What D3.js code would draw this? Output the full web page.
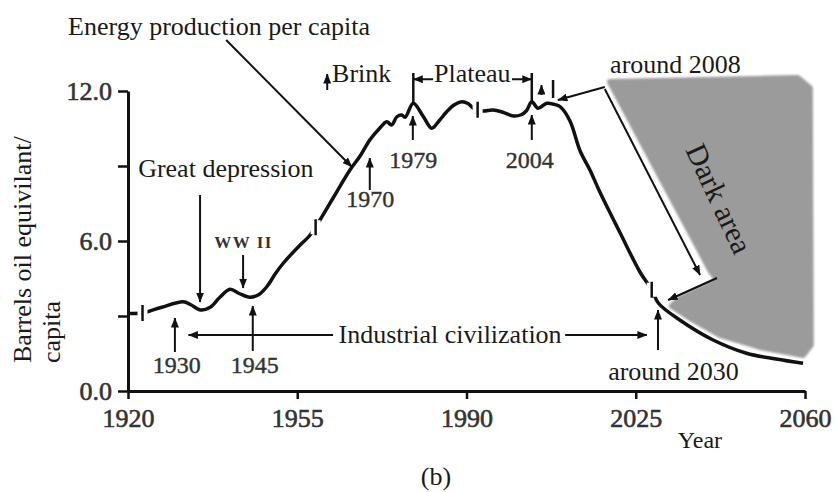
<!DOCTYPE html>
<html>
<head>
<meta charset="utf-8">
<script src="https://cdn.jsdelivr.net/npm/d3@7"></script>
<style>
  body { margin: 0; background: #fff; }
  svg { display: block; font-family: "Liberation Serif", "Times New Roman", serif; }
</style>
</head>
<body>
<svg id="chart" width="837" height="492"></svg>
<script>
// Energy production per capita (barrels of oil equivalent per person), 1920–2060
const years = [1920, 1923, 1924, 1927, 1931.4, 1933, 1935, 1937, 1939, 1941.1, 1943, 1945.2, 1947, 1948.7,
  1950.5, 1952.1, 1955.6, 1957.5, 1959.7, 1962.5, 1965.9, 1968, 1970, 1972, 1973.5, 1974.5, 1975.6, 1976.6,
  1977.3, 1979, 1981, 1982.8, 1984.3, 1985.9, 1987.5, 1989, 1990.3, 1991.4, 1992.3, 1993.5, 1995.5, 1997.5,
  1999.7, 2001.3, 2002.4, 2003.5, 2004.8, 2006.6, 2008.6, 2009.5, 2011.4, 2013.5, 2015.5, 2017.6, 2021.7,
  2025.9, 2028.3, 2029.7, 2034.1, 2041, 2047.9, 2054, 2059.6];
const values = [3.10, 3.12, 3.17, 3.35, 3.57, 3.45, 3.24, 3.35, 3.75, 4.07, 3.90, 3.75, 3.85, 4.17,
  4.70, 5.11, 5.84, 6.20, 6.84, 7.75, 8.84, 9.40, 10.04, 10.50, 10.77, 10.64, 10.97, 11.04,
  10.95, 11.51, 11.00, 10.51, 10.80, 11.17, 11.45, 11.57, 11.50, 11.31, 11.25, 11.20, 11.24, 11.15,
  11.00, 11.05, 11.21, 11.57, 11.31, 11.51, 11.44, 11.35, 10.80, 9.60, 8.85, 7.95, 6.35,
  4.75, 4.05, 3.51, 2.84, 2.04, 1.51, 1.28, 1.11];

// Axis ticks
const xTicks = [1920, 1955, 1990, 2025, 2060];
const yTicks = [0, 3, 6, 9, 12];
const yLabelled = [0, 6, 12];

// Break markers along the curve
const markerYears = [1923, 1958.8, 1992.3, 2028.3];
const markerValues = [3.12, 6.55, 11.25, 4.05];

// Outline of the shaded "dark area" beyond the peak
const darkYears = [2019.7, 2058.5, 2061.0, 2061.2, 2059.6, 2050.7, 2042.4, 2036.6, 2032.5, 2034.1, 2042.0, 2040.4];
const darkValues = [12.36, 12.52, 12.12, 1.84, 1.44, 1.76, 2.24, 2.88, 3.40, 3.68, 4.40, 4.84];

// Annotation arrows: [yearFrom, valueFrom, yearTo, valueTo]
const arrows = [
  [1940.3, 14.04, 1966.3, 8.96],   // Energy production per capita
  [1934.9, 7.84, 1934.9, 3.56],    // Great depression
  [1943.8, 5.44, 1943.8, 4.12],    // WW II
  [1929.7, 1.56, 1929.7, 2.92],    // 1930
  [1945.8, 1.60, 1945.8, 3.40],    // 1945
  [1970.0, 8.04, 1970.0, 9.32],    // 1970
  [1978.9, 10.04, 1978.9, 11.00],  // 1979
  [2003.5, 10.04, 2003.5, 11.04],  // 2004
  [2029.6, 1.64, 2029.6, 3.24],    // around 2030
  [1961.2, 12.04, 1961.2, 12.68],  // Brink
  [2005.5, 11.84, 2005.5, 12.24],
  [1983.1, 12.47, 1979.0, 12.47],  // Plateau, left
  [1999.4, 12.47, 2003.5, 12.47],  // Plateau, right
  [1962.4, 2.24, 1932.5, 2.24],    // Industrial civilization, left
  [2010.4, 2.24, 2027.3, 2.24],    // Industrial civilization, right
  [2018.6, 12.16, 2008.9, 11.64],  // around 2008
  [2018.6, 12.08, 2038.3, 4.64],   // peak to decline
  [2041.8, 4.52, 2031.7, 3.64]     // toward around 2030
];

// Plain vertical bars: [year, valueFrom, valueTo]
const bars = [
  [1979.0, 11.52, 12.72],
  [2003.5, 11.57, 12.72],
  [2007.9, 11.72, 12.44]
];

// Labels: [text, year, value, size, anchor]
const labels = [
  ["Energy production per capita", 1907.6, 14.24, 26, "start"],
  ["Brink", 1962.2, 12.37, 26, "start"],
  ["Plateau", 1991.2, 12.37, 26, "middle"],
  ["around 2008", 2019.7, 12.71, 26, "start"],
  ["Great depression", 1922.1, 8.57, 26, "start"],
  ["Industrial civilization", 1986.6, 1.94, 26, "middle"],
  ["around 2030", 2019.3, 0.44, 26, "start"],
  ["Year", 2033.7, -2.28, 24, "start"],
  ["(b)", 1983.7, -3.74, 26, "middle"]
];
const yearNotes = [
  ["1930", 1930.1, 0.72], ["1945", 1946.2, 0.72], ["1970", 1970.1, 7.37],
  ["1979", 1979.0, 8.92], ["2004", 2003.1, 8.92]
];

const svg = d3.select("#chart");
const x = d3.scaleLinear().domain([1920, 2060]).range([128, 805]);
const y = d3.scaleLinear().domain([0, 12]).range([391, 91]);

const defs = svg.append("defs");
defs.append("marker")
  .attr("id", "head").attr("markerUnits", "userSpaceOnUse")
  .attr("viewBox", "0 0 10 8").attr("refX", 9.5).attr("refY", 4)
  .attr("markerWidth", 10).attr("markerHeight", 8).attr("orient", "auto")
  .append("path").attr("d", "M0,0 L10,4 L0,8 Z").attr("fill", "#111");
defs.append("filter").attr("id", "soft").attr("x", "-10%").attr("y", "-10%").attr("width", "120%").attr("height", "120%")
  .append("feGaussianBlur").attr("stdDeviation", 1.3);

// Dark area
svg.append("path")
  .datum(darkYears.map((d, i) => [d, darkValues[i]]))
  .attr("d", d3.line().x(d => x(d[0])).y(d => y(d[1])).curve(d3.curveLinearClosed))
  .attr("fill", "#9b9b9b").attr("stroke", "#9b9b9b").attr("stroke-width", 6)
  .attr("stroke-linejoin", "round").attr("filter", "url(#soft)");

svg.append("text")
  .attr("transform", `translate(${x(2042.3)},${y(7.7)}) rotate(65)`)
  .attr("text-anchor", "middle").attr("dominant-baseline", "central")
  .attr("font-size", 30).attr("fill", "#1a1a1a").text("Dark area");

// Axes
const xAxis = svg.append("g").attr("transform", `translate(0,${y(0)})`)
  .call(d3.axisBottom(x).tickValues(xTicks).tickFormat(d3.format("d")).tickSize(8).tickSizeOuter(0).tickPadding(10));
const yAxis = svg.append("g").attr("transform", `translate(${x(1920)},0)`)
  .call(d3.axisLeft(y).tickValues(yTicks).tickFormat(d => yLabelled.includes(d) ? d3.format(".1f")(d) : "")
    .tickSize(10).tickSizeOuter(0).tickPadding(6));
[xAxis, yAxis].forEach(g => {
  g.select(".domain").attr("stroke", "#111").attr("stroke-width", 3);
  g.selectAll(".tick line").attr("stroke", "#111").attr("stroke-width", 2.5);
  g.selectAll(".tick text").attr("font-family", "Liberation Serif, serif").attr("font-size", 26)
    .attr("fill", "#333").attr("stroke", "#333").attr("stroke-width", 0.6);
});

// Y axis title
const yTitle = svg.append("text").attr("font-size", 26).attr("fill", "#1a1a1a")
  .attr("transform", `translate(31,${y(1.12)}) rotate(-90)`);
yTitle.append("tspan").attr("x", 0).attr("y", 0).text("Barrels oil equivilant/");
yTitle.append("tspan").attr("x", 0).attr("y", 29).text("capita");

// Curve
svg.append("path")
  .datum(years.map((d, i) => [d, values[i]]))
  .attr("d", d3.line().x(d => x(d[0])).y(d => y(d[1])).curve(d3.curveCatmullRom.alpha(0.5)))
  .attr("fill", "none").attr("stroke", "#111").attr("stroke-width", 3.5).attr("stroke-linejoin", "round");

// Break markers
const mk = svg.append("g").selectAll("g").data(markerYears.map((d, i) => [d, markerValues[i]])).join("g")
  .attr("transform", d => `translate(${x(d[0])},${y(d[1])})`);
mk.append("rect").attr("x", -5).attr("y", -7).attr("width", 10).attr("height", 14).attr("fill", "#fff");
mk.append("line").attr("y1", -8).attr("y2", 8).attr("stroke", "#111").attr("stroke-width", 2.5);

// Bars
svg.append("g").selectAll("line").data(bars).join("line")
  .attr("x1", d => x(d[0])).attr("x2", d => x(d[0]))
  .attr("y1", d => y(d[1])).attr("y2", d => y(d[2]))
  .attr("stroke", "#111").attr("stroke-width", 2.5);

// Arrows
svg.append("g").selectAll("line").data(arrows).join("line")
  .attr("x1", d => x(d[0])).attr("y1", d => y(d[1]))
  .attr("x2", d => x(d[2])).attr("y2", d => y(d[3]))
  .attr("stroke", "#111").attr("stroke-width", 2).attr("marker-end", "url(#head)");

// Labels
svg.append("g").selectAll("text").data(labels).join("text")
  .attr("x", d => x(d[1])).attr("y", d => y(d[2]))
  .attr("font-size", d => d[3]).attr("text-anchor", d => d[4])
  .attr("fill", "#1a1a1a").text(d => d[0]);

svg.append("text")
  .attr("x", x(1943.9)).attr("y", y(5.71)).attr("text-anchor", "middle")
  .attr("font-size", 17).attr("font-weight", "bold").attr("letter-spacing", 1.5)
  .attr("fill", "#333").text("WW II");

svg.append("g").selectAll("text").data(yearNotes).join("text")
  .attr("x", d => x(d[1])).attr("y", d => y(d[2])).attr("text-anchor", "middle")
  .attr("font-size", 24).attr("fill", "#333").attr("stroke", "#333").attr("stroke-width", 0.4)
  .text(d => d[0]);
</script>
</body>
</html>
